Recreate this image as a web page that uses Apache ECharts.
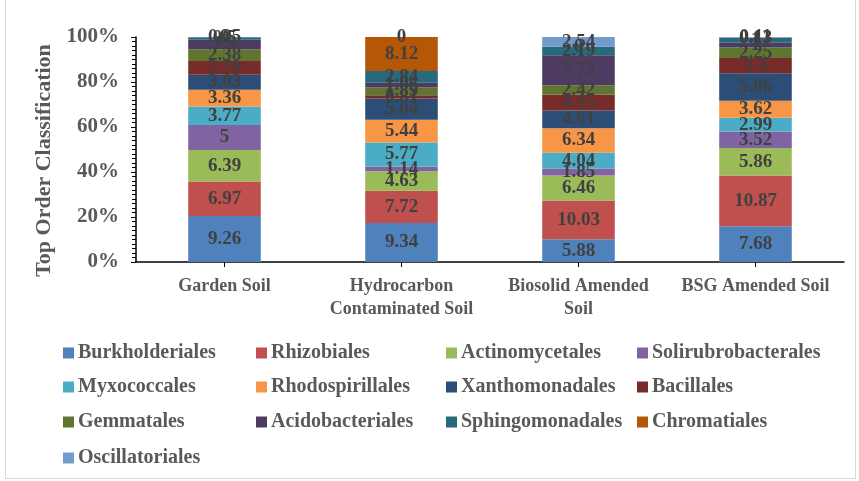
<!DOCTYPE html>
<html>
<head>
<meta charset="utf-8">
<script src="https://cdn.jsdelivr.net/npm/echarts@6/dist/echarts.min.js"></script>
<style>
  html, body { margin: 0; padding: 0; background: #fff; }
  #chart { width: 859px; height: 481px; }
  #frame { position: absolute; left: 5px; top: -2px; width: 849px; height: 479px; border: 1px solid #d9d9d9; pointer-events: none; }
</style>
</head>
<body>
<div id="chart"></div>
<div id="frame"></div>
<script>
// Sample sites along the x axis
const categories = ['Garden Soil', 'Hydrocarbon\nContaminated Soil', 'Biosolid Amended\nSoil', 'BSG Amended Soil'];

// Order names, bottom of each stack first
const orders = ['Burkholderiales', 'Rhizobiales', 'Actinomycetales', 'Solirubrobacterales',
  'Myxococcales', 'Rhodospirillales', 'Xanthomonadales', 'Bacillales',
  'Gemmatales', 'Acidobacteriales', 'Sphingomonadales', 'Chromatiales', 'Oscillatoriales'];

// Relative abundance (%) of each order per site
const burkholderiales     = [9.26, 9.34, 5.88, 7.68];
const rhizobiales         = [6.97, 7.72, 10.03, 10.87];
const actinomycetales     = [6.39, 4.63, 6.46, 5.86];
const solirubrobacterales = [5.00, 1.14, 1.85, 3.52];
const myxococcales        = [3.77, 5.77, 4.04, 2.99];
const rhodospirillales    = [3.36, 5.44, 6.34, 3.62];
const xanthomonadales     = [3.03, 5.04, 4.61, 5.86];
const bacillales          = [2.79, 0.81, 4.15, 3.30];
const gemmatales          = [2.38, 1.89, 2.42, 2.25];
const acidobacteriales    = [1.90, 1.06, 7.73, 1.00];
const sphingomonadales    = [0.50, 2.84, 2.19, 1.00];
const chromatiales        = [0.00, 8.12, 0.00, 0.13];
const oscillatoriales     = [0.05, 0.00, 2.54, 0.11];

const yTicks = ['0%', '20%', '40%', '60%', '80%', '100%'];

const seriesValues = [burkholderiales, rhizobiales, actinomycetales, solirubrobacterales,
  myxococcales, rhodospirillales, xanthomonadales, bacillales, gemmatales,
  acidobacteriales, sphingomonadales, chromatiales, oscillatoriales];

const colors = ['#4F81BD', '#C0504D', '#9BBB59', '#8064A2', '#4BACC6', '#F79646',
  '#2C4D75', '#772C2A', '#5F7530', '#4D3B62', '#276A7C', '#B65708', '#729ACA'];

const FONT = '"Liberation Serif", "Times New Roman", serif';

// Column totals, used to stack each site to 100%
const totals = categories.map((_, c) => seriesValues.reduce((s, arr) => s + arr[c], 0));

const series = orders.map((name, i) => ({
  name: name,
  type: 'bar',
  stack: 'all',
  barWidth: '41%',
  itemStyle: { color: colors[i] },
  label: {
    show: true,
    position: 'inside',
    fontFamily: FONT,
    fontWeight: 'bold',
    fontSize: 19,
    color: '#404040',
    formatter: p => String(seriesValues[i][p.dataIndex])
  },
  data: seriesValues[i].map((v, c) => v / totals[c] * 100)
}));

// One legend per entry, laid out as a 4-column grid
const colX = [63, 256, 446, 637];
const rowY = [343, 377, 412, 448];
const legends = orders.map((name, i) => ({
  data: [name],
  left: colX[i % 4],
  top: rowY[Math.floor(i / 4)],
  icon: 'rect',
  itemWidth: 11,
  itemHeight: 11,
  itemGap: 4,
  padding: 0,
  textStyle: { fontFamily: FONT, fontWeight: 'bold', fontSize: 20, color: '#595959', padding: [0, 0, 0, -1] }
}));

const chart = echarts.init(document.getElementById('chart'), null, { renderer: 'canvas' });
chart.setOption({
  animation: false,
  color: colors,
  legend: legends,
  grid: { left: 136, right: 15, top: 37, bottom: 219, containLabel: false },
  xAxis: {
    type: 'category',
    data: categories,
    axisLine: { lineStyle: { color: '#000', width: 1.5 } },
    axisTick: { show: true, alignWithLabel: true, length: 5, lineStyle: { color: '#000' } },
    axisLabel: {
      fontFamily: FONT, fontWeight: 'bold', fontSize: 18, color: '#595959',
      margin: 13, lineHeight: 23, interval: 0
    }
  },
  yAxis: {
    type: 'value',
    min: 0, max: 100, interval: 20,
    name: 'Top Order Classification',
    nameLocation: 'middle',
    nameGap: 74,
    nameTextStyle: { fontFamily: FONT, fontWeight: 'bold', fontSize: 22, color: '#595959', padding: [0, 22, 0, 0] },
    axisLine: { show: true, lineStyle: { color: '#000', width: 1.5 } },
    axisTick: { show: true, inside: false, length: 5, lineStyle: { color: '#000' } },
    minorTick: { show: true, splitNumber: 10, length: 4, lineStyle: { color: '#000' } },
    splitLine: { show: false },
    axisLabel: {
      fontFamily: FONT, fontWeight: 'bold', fontSize: 21, color: '#595959', margin: 17,
      formatter: v => yTicks[Math.round(v / 20)]
    }
  },
  series: series
});
</script>
</body>
</html>
